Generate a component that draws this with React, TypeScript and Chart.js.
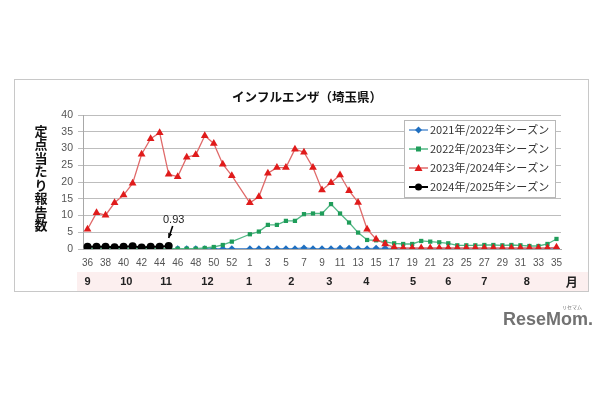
import React, { useEffect, useRef } from 'react';
import { Chart, registerables } from 'chart.js';

Chart.register(...registerables);

const weeks = [
  '36', '37', '38', '39', '40', '41', '42', '43', '44', '45', '46', '47', '48', '49', '50', '51', '52', '53',
  '1', '2', '3', '4', '5', '6', '7', '8', '9', '10', '11', '12', '13', '14', '15', '16', '17',
  '18', '19', '20', '21', '22', '23', '24', '25', '26', '27', '28', '29', '30', '31', '32', '33', '34', '35',
];

const season2021 = [
  0.1, 0.1, 0.1, 0.1, 0.1, 0.1, 0.1, 0.1, 0.1, 0.1, 0.1, 0.1, 0.1, 0.1, 0.1, 0.1, 0.1, null,
  0.1, 0.1, 0.1, 0.1, 0.1, 0.1, 0.3, 0.1, 0.1, 0.1, 0.2, 0.2, 0.1, 0.1, 0.2, 0.2, 0.2,
  0.1, 0.1, 0.1, 0.1, 0.1, 0.1, 0.1, 0.1, 0.1, 0.1, 0.1, 0.1, 0.1, 0.1, 0.1, 0.1, 0.1, 0.1,
];

const season2022 = [
  0.1, 0.1, 0.1, 0.1, 0.1, 0.1, 0.1, 0.1, 0.1, 0.1, 0.1, 0.1, 0.1,
  0.3, 0.6, 1.2, 2.2, null,
  4.4, 5.2, 7.2, 7.2, 8.4, 8.4, 10.4, 10.6, 10.6, 13.4,
  10.6, 7.9, 4.9, 2.7, 2.6, 2.1, 1.7, 1.5, 1.5, 2.4,
  2.2, 2.0, 1.7, 1.1, 1.1, 1.1, 1.2, 1.2, 1.1, 1.2,
  1.1, 0.9, 0.9, 1.5, 3.0,
];

const season2023 = [
  5.9, 10.8, 10.1, 13.8, 16.1, 19.6, 28.3, 32.9, 34.7,
  22.3, 21.6, 27.4, 28.1, 33.8, 31.5, 25.3, 21.9, null,
  13.8, 15.6, 22.6, 24.3, 24.3, 29.8, 28.9, 24.3, 17.6, 19.8,
  22.1, 17.4, 13.9, 5.9, 2.9, 1.5, 0.5, 0.3, 0.3, 0.3,
  0.3, 0.3, 0.3, 0.3, 0.3, 0.3, 0.3, 0.3, 0.3, 0.3,
  0.3, 0.3, 0.3, 0.3, 0.5,
];

const season2024 = [0.7, 0.7, 0.7, 0.5, 0.7, 0.85, 0.45, 0.7, 0.7, 0.93];

const seriesLabels = [
  '2021年/2022年シーズン',
  '2022年/2023年シーズン',
  '2023年/2024年シーズン',
  '2024年/2025年シーズン',
];

const yTicks = [0, 5, 10, 15, 20, 25, 30, 35, 40];
const monthLabels = ['9', '10', '11', '12', '1', '2', '3', '4', '5', '6', '7', '8', '月'];
const monthAt = [0, 4.3, 8.7, 13.3, 17.9, 22.6, 26.8, 30.9, 36.1, 40, 44, 48.7, 53.7];

const titleText = 'インフルエンザ（埼玉県）';
const yTitle = '定点当たり報告数';
const annotationText = '0.93';

const lineColors = ['#5b93d3', '#52b785', '#e06a6a', '#000000'];
const markColors = ['#1f6fc0', '#1f9d5a', '#e01b1b', '#000000'];
const markStyles = ['rectRot', 'rect', 'triangle', 'circle'];

function drawMarker(ctx: CanvasRenderingContext2D, style: string, x: number, y: number, color: string) {
  ctx.fillStyle = color;
  ctx.beginPath();
  if (style === 'rectRot') {
    const r = 3.5;
    ctx.moveTo(x, y - r);
    ctx.lineTo(x + r, y);
    ctx.lineTo(x, y + r);
    ctx.lineTo(x - r, y);
    ctx.closePath();
  } else if (style === 'rect') {
    ctx.rect(x - 2.5, y - 2.5, 5, 5);
  } else if (style === 'triangle') {
    ctx.moveTo(x, y - 4);
    ctx.lineTo(x + 4, y + 3);
    ctx.lineTo(x - 4, y + 3);
    ctx.closePath();
  } else {
    ctx.arc(x, y, 3.5, 0, Math.PI * 2);
  }
  ctx.fill();
}

export default function App() {
  const ref = useRef<HTMLCanvasElement>(null);

  useEffect(() => {
    if (!ref.current) return;
    const deco = {
      id: 'deco',
      beforeDraw(chart: any) {
        const ctx = chart.ctx as CanvasRenderingContext2D;
        ctx.save();
        ctx.fillStyle = '#ffffff';
        ctx.fillRect(0, 0, chart.width, chart.height);
        ctx.fillStyle = '#fcefef';
        ctx.fillRect(77, 272, 511, 19);
        ctx.strokeStyle = '#c8c8c8';
        ctx.lineWidth = 1;
        ctx.strokeRect(14.5, 79.5, 574, 212);
        ctx.restore();
      },
      afterDraw(chart: any) {
        const ctx = chart.ctx as CanvasRenderingContext2D;
        const xs = chart.scales.x;
        ctx.save();
        // title
        ctx.fillStyle = '#111';
        ctx.font = 'bold 12.5px "Noto Sans CJK JP"';
        ctx.textAlign = 'center';
        ctx.textBaseline = 'middle';
        ctx.fillText(titleText, 307, 97);
        // y title
        ctx.font = 'bold 13px "Noto Sans CJK JP"';
        Array.from(yTitle).forEach((ch, i) => {
          ctx.fillText(ch, 41, 131 + i * 13.5);
        });
        // month row
        ctx.fillStyle = '#222';
        monthLabels.forEach((m, i) => {
          const x = xs.getPixelForValue(monthAt[i]);
          ctx.font = m === '月' ? 'bold 12px "Noto Sans CJK JP"' : 'bold 11px "Liberation Sans"';
          ctx.fillText(m, x, 282);
        });
        // legend
        ctx.fillStyle = '#ffffff';
        ctx.fillRect(404.5, 120.5, 151, 77);
        ctx.strokeStyle = '#b8b8b8';
        ctx.lineWidth = 1;
        ctx.strokeRect(404.5, 120.5, 151, 77);
        const itemY = [130, 149, 168, 187];
        chart.data.datasets.forEach((ds: any, i: number) => {
          const y = itemY[i];
          ctx.strokeStyle = lineColors[i];
          ctx.lineWidth = i === 3 ? 2 : 1.5;
          ctx.beginPath();
          ctx.moveTo(409, y);
          ctx.lineTo(428, y);
          ctx.stroke();
          drawMarker(ctx, markStyles[i], 418.5, y, markColors[i]);
          ctx.fillStyle = '#333';
          ctx.font = '11px "Noto Sans CJK JP"';
          ctx.textAlign = 'left';
          ctx.fillText(ds.label, 430, y);
        });
        // annotation
        const meta = chart.getDatasetMeta(3);
        const pt = meta.data[meta.data.length - 1];
        if (pt) {
          ctx.fillStyle = '#222';
          ctx.font = '11px "Liberation Sans"';
          ctx.textAlign = 'center';
          ctx.fillText(annotationText, pt.x + 5, 220);
          const x1 = pt.x + 4, y1 = 226, x2 = pt.x, y2 = pt.y - 8;
          ctx.strokeStyle = '#000';
          ctx.lineWidth = 1.6;
          ctx.beginPath();
          ctx.moveTo(x1, y1);
          ctx.lineTo(x2, y2);
          ctx.stroke();
          const ang = Math.atan2(y2 - y1, x2 - x1);
          ctx.fillStyle = '#000';
          ctx.beginPath();
          ctx.moveTo(x2, y2);
          ctx.lineTo(x2 - 5 * Math.cos(ang - 0.45), y2 - 5 * Math.sin(ang - 0.45));
          ctx.lineTo(x2 - 5 * Math.cos(ang + 0.45), y2 - 5 * Math.sin(ang + 0.45));
          ctx.closePath();
          ctx.fill();
        }
        // watermark
        ctx.fillStyle = '#727272';
        ctx.textAlign = 'left';
        ctx.font = 'bold 18px "Liberation Sans"';
        ctx.fillText('ReseMom.', 503, 320);
        ctx.font = '5px "Noto Sans CJK JP"';
        ctx.fillText('リセマム', 562, 307);
        ctx.restore();
      },
    };

    const chart = new Chart(ref.current, {
      type: 'line',
      data: {
        labels: weeks,
        datasets: [season2021, season2022, season2023, season2024].map((d, i) => ({
          label: seriesLabels[i],
          data: d,
          borderColor: lineColors[i],
          backgroundColor: markColors[i],
          pointBackgroundColor: markColors[i],
          pointBorderColor: markColors[i],
          pointBorderWidth: 0,
          pointStyle: markStyles[i] as any,
          pointRadius: i === 2 ? 4.5 : i === 3 ? 4 : i === 1 ? 3 : 3.5,
          borderWidth: i === 3 ? 2 : 1.3,
          tension: 0,
          spanGaps: true,
          order: 4 - i,
        })),
      },
      options: {
        responsive: false,
        animation: false,
        events: [],
        layout: { padding: { left: 43, right: 49, top: 115, bottom: 121 } },
        plugins: {
          legend: { display: false },
          title: { display: false },
          tooltip: { enabled: false },
        },
        scales: {
          x: {
            type: 'category',
            offset: true,
            grid: { display: false },
            border: { display: true, color: '#a8a8a8' },
            ticks: {
              autoSkip: false,
              maxRotation: 0,
              padding: 0,
              color: '#555',
              font: { family: 'Liberation Sans', size: 10 },
              callback: (_v: any, idx: number) => (idx % 2 === 0 ? weeks[idx] : ''),
            },
            afterFit: (s: any) => { s.height = 30; },
          },
          y: {
            min: 0,
            max: 40,
            afterBuildTicks: (s: any) => { s.ticks = yTicks.map((v) => ({ value: v })); },
            grid: { color: '#bdbdbd', lineWidth: 1, tickLength: 5, drawTicks: true },
            border: { display: true, color: '#a8a8a8' },
            ticks: {
              padding: 5,
              color: '#555',
              font: { family: 'Liberation Sans', size: 10.5 },
            },
            afterFit: (s: any) => { s.width = 40; },
          },
        },
      },
      plugins: [deco],
    });
    return () => chart.destroy();
  }, []);

  return (
    <div style={{ position: 'fixed', left: 0, top: 0, width: 610, height: 400, background: '#fff' }}>
      <canvas ref={ref} width={610} height={400} style={{ width: 610, height: 400, display: 'block' }} />
    </div>
  );
}
